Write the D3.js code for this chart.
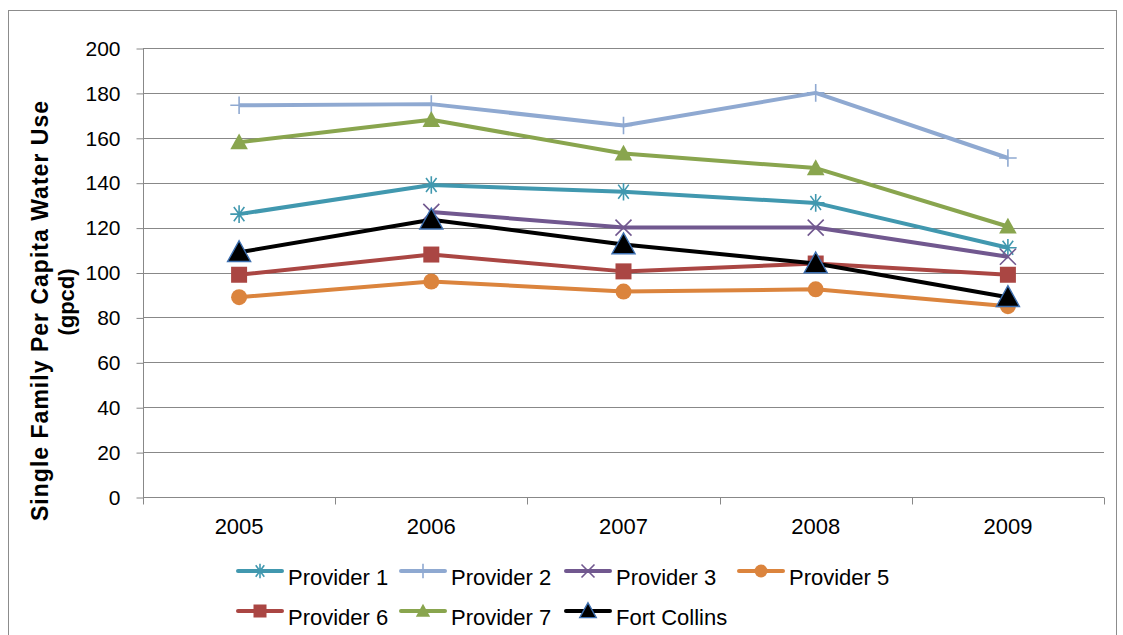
<!DOCTYPE html>
<html>
<head>
<meta charset="utf-8">
<script src="https://cdn.jsdelivr.net/npm/d3@7"></script>
<style>
  html, body { margin: 0; padding: 0; background: #fff; }
  svg { display: block; font-family: "Liberation Sans", Arial, sans-serif; }
</style>
</head>
<body>
<svg id="chart" width="1123" height="635"></svg>
<script>
// chart data
const years = ['2005', '2006', '2007', '2008', '2009'];
const yTicks = [0, 20, 40, 60, 80, 100, 120, 140, 160, 180, 200];

const provider1 = [126, 139, 136, 131, 111];
const provider2 = [174.5, 175, 165.5, 180, 151];
const provider3 = [null, 127, 120, 120, 107];
const provider5 = [89, 96, 91.5, 92.5, 85];
const provider6 = [99, 108, 100.5, 104, 99];
const provider7 = [158, 168, 153, 146.5, 120.5];
const fortCollins = [109, 123.5, 112.5, 104, 89];

const series = [
  { name: 'Provider 1', values: provider1, color: '#4198AF', marker: 'star' },
  { name: 'Provider 2', values: provider2, color: '#8FA9D1', marker: 'plus' },
  { name: 'Provider 3', values: provider3, color: '#71588F', marker: 'x' },
  { name: 'Provider 5', values: provider5, color: '#DB843D', marker: 'circle' },
  { name: 'Provider 6', values: provider6, color: '#AA4643', marker: 'square' },
  { name: 'Provider 7', values: provider7, color: '#89A54E', marker: 'triangle' },
  { name: 'Fort Collins', values: fortCollins, color: '#000000', marker: 'triangleOutlined' }
];

// draw order (back to front) as in the original
const drawOrder = ['Provider 2', 'Provider 7', 'Provider 1', 'Provider 3', 'Provider 6', 'Provider 5', 'Fort Collins'];

const svg = d3.select('#chart');
const margin = { left: 143, right: 1104, top: 48, bottom: 497 };
const gridColor = '#888888';

// outer frame
svg.append('rect')
  .attr('x', 8.5).attr('y', 10.5)
  .attr('width', 1108).attr('height', 640)
  .attr('fill', 'none').attr('stroke', '#8c8c8c').attr('stroke-width', 1);

const x = d3.scaleBand().domain(years).range([margin.left, margin.right]);
const y = d3.scaleLinear().domain([0, 200]).range([margin.bottom, margin.top]);

// gridlines
svg.append('g')
  .selectAll('line')
  .data(yTicks.filter(d => d > 0))
  .enter().append('line')
  .attr('x1', margin.left).attr('x2', margin.right)
  .attr('y1', d => Math.round(y(d)) + 0.5).attr('y2', d => Math.round(y(d)) + 0.5)
  .attr('stroke', gridColor).attr('stroke-width', 1);

// y axis
const yAxis = svg.append('g')
  .attr('transform', `translate(${margin.left + 0.5},0.5)`)
  .call(d3.axisLeft(y).tickValues(yTicks).tickSize(7).tickPadding(16));
yAxis.selectAll('text').attr('font-size', 21).attr('fill', '#000');
yAxis.selectAll('line, path').attr('stroke', gridColor);
yAxis.select('.domain').attr('d', `M0,${margin.top}V${margin.bottom}`);

// x axis
const xAxis = svg.append('g')
  .attr('transform', `translate(0,${margin.bottom + 0.5})`)
  .call(d3.axisBottom(x).tickSize(0).tickPadding(21));
xAxis.selectAll('text').attr('font-size', 22).attr('fill', '#000');
xAxis.select('.domain').attr('stroke', gridColor).attr('d', `M${margin.left},0H${margin.right}`);
// tick marks at the category boundaries
xAxis.append('g').selectAll('line')
  .data(d3.range(years.length + 1))
  .enter().append('line')
  .attr('x1', i => Math.round(margin.left + i * x.step()) + 0.5)
  .attr('x2', i => Math.round(margin.left + i * x.step()) + 0.5)
  .attr('y1', 0).attr('y2', 7)
  .attr('stroke', gridColor);

// y axis title (two lines)
svg.append('text')
  .attr('transform', 'translate(48,311) rotate(-90)')
  .attr('text-anchor', 'middle')
  .attr('font-size', 23).attr('font-weight', 'bold').attr('fill', '#000')
  .attr('textLength', 420).attr('lengthAdjust', 'spacing')
  .text('Single Family  Per Capita Water Use');
svg.append('text')
  .attr('transform', 'translate(74,302) rotate(-90)')
  .attr('text-anchor', 'middle')
  .attr('font-size', 22).attr('font-weight', 'bold').attr('fill', '#000')
  .text('(gpcd)');

// marker drawing
function drawMarker(g, type, color, size) {
  const s = size;
  if (type === 'star') {
    const r = s * 0.55;
    g.append('path')
      .attr('d', `M${-r},0H${r}M${-r * 0.6},${-r * 0.8}L${r * 0.6},${r * 0.8}M${-r * 0.6},${r * 0.8}L${r * 0.6},${-r * 0.8}M0,${-r}V${r}`)
      .attr('stroke', color).attr('stroke-width', 1.6).attr('fill', 'none');
  } else if (type === 'plus') {
    const r = s * 0.55;
    g.append('path')
      .attr('d', `M${-r},0H${r}M0,${-r}V${r}`)
      .attr('stroke', color).attr('stroke-width', 1.6).attr('fill', 'none');
  } else if (type === 'x') {
    const r = s * 0.5;
    g.append('path')
      .attr('d', `M${-r},${-r}L${r},${r}M${-r},${r}L${r},${-r}`)
      .attr('stroke', color).attr('stroke-width', 1.6).attr('fill', 'none');
  } else if (type === 'circle') {
    g.append('circle').attr('r', s * 0.5).attr('fill', color);
  } else if (type === 'square') {
    g.append('rect').attr('x', -s * 0.5).attr('y', -s * 0.5)
      .attr('width', s).attr('height', s).attr('fill', color);
  } else if (type === 'triangle') {
    const r = s * 0.55;
    g.append('path').attr('d', `M0,${-r}L${r},${r * 0.8}L${-r},${r * 0.8}Z`).attr('fill', color);
  } else if (type === 'triangleOutlined') {
    const r = s * 0.55;
    g.append('path').attr('d', `M0,${-r}L${r},${r * 0.8}L${-r},${r * 0.8}Z`)
      .attr('fill', '#000').attr('stroke', '#3d6fb0').attr('stroke-width', 1.4);
  }
}

const markerSize = { star: 16, plus: 16, x: 16, circle: 16, square: 16, triangle: 16, triangleOutlined: 21 };

const line = d3.line()
  .defined(d => d.v !== null)
  .x(d => x(d.year) + x.bandwidth() / 2)
  .y(d => y(d.v));

const plot = svg.append('g');
drawOrder.forEach(name => {
  const s = series.find(d => d.name === name);
  const pts = years.map((yr, i) => ({ year: yr, v: s.values[i] }));
  plot.append('path')
    .datum(pts)
    .attr('d', line)
    .attr('fill', 'none')
    .attr('stroke', s.color)
    .attr('stroke-width', 4)
    .attr('stroke-linejoin', 'round');
  pts.filter(d => d.v !== null).forEach(d => {
    const g = plot.append('g')
      .attr('transform', `translate(${x(d.year) + x.bandwidth() / 2},${y(d.v)})`);
    drawMarker(g, s.marker, s.color, markerSize[s.marker]);
  });
});

// legend
const legendPos = [
  { name: 'Provider 1', x: 237, y: 571 },
  { name: 'Provider 2', x: 400, y: 571 },
  { name: 'Provider 3', x: 565, y: 571 },
  { name: 'Provider 5', x: 738, y: 571 },
  { name: 'Provider 6', x: 237, y: 611 },
  { name: 'Provider 7', x: 400, y: 611 },
  { name: 'Fort Collins', x: 565, y: 611 }
];
const legend = svg.append('g');
legendPos.forEach(p => {
  const s = series.find(d => d.name === p.name);
  const g = legend.append('g').attr('transform', `translate(${p.x},${p.y})`);
  g.append('line').attr('x1', 1).attr('x2', 45).attr('y1', 0).attr('y2', 0)
    .attr('stroke', s.color).attr('stroke-width', 4).attr('stroke-linecap', 'round');
  const m = g.append('g').attr('transform', 'translate(23,0)');
  drawMarker(m, s.marker, s.color, s.marker === 'triangleOutlined' ? 15 : 13);
  g.append('text').attr('x', 51).attr('y', 14)
    .attr('font-size', 22).attr('fill', '#000').text(s.name);
});
</script>
</body>
</html>
